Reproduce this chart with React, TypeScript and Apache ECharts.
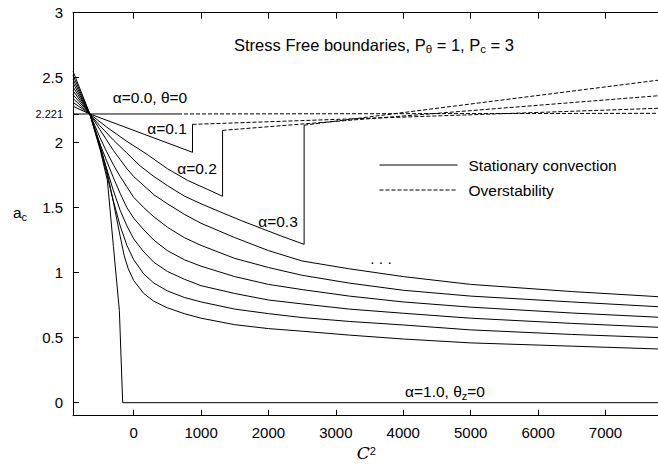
import React, { useEffect, useRef } from "react";
import * as echarts from "echarts";

const FONT = "'Liberation Sans', Arial, Helvetica, sans-serif";

// axis ticks
const xTicks = [0, 1000, 2000, 3000, 4000, 5000, 6000, 7000];
const yTicks = [0, 0.5, 1, 1.5, 2, 2.221, 2.5, 3];

// stationary convection curves (C^2, a_c)
const alpha00Stat = [[-900, 2.221], [658, 2.221]];
const alpha01Stat = [[-900, 2.28], [-650, 2.221], [873, 1.926]];
const alpha02Stat = [[-900, 2.31], [-650, 2.221], [-400, 2.12], [-100, 2.01], [200, 1.91], [500, 1.8], [800, 1.71], [1100, 1.64], [1319, 1.588]];
const alpha03Stat = [[-900, 2.34], [-650, 2.221], [-500, 2.13], [-300, 2.02], [-100, 1.92], [100, 1.82], [300, 1.74], [500, 1.67], [750, 1.59], [1000, 1.53], [1319, 1.46], [1600, 1.4], [1900, 1.34], [2200, 1.28], [2529, 1.218]];
const alpha04Stat = [[-900, 2.37], [-650, 2.221], [-500, 2.1], [-400, 2.02], [-300, 1.94], [-200, 1.87], [-100, 1.8], [0, 1.74], [150, 1.67], [300, 1.6], [500, 1.53], [750, 1.45], [1000, 1.38], [1500, 1.27], [2000, 1.17], [2500, 1.09], [3200, 1.03], [4000, 0.97], [5000, 0.91], [6500, 0.855], [7800, 0.815]];
const alpha05Stat = [[-900, 2.4], [-650, 2.221], [-500, 2.04], [-400, 1.93], [-300, 1.83], [-200, 1.74], [-100, 1.66], [0, 1.58], [150, 1.5], [300, 1.43], [500, 1.35], [750, 1.27], [1000, 1.21], [1500, 1.11], [2000, 1.04], [2500, 0.98], [3200, 0.92], [4000, 0.865], [5000, 0.82], [6500, 0.775], [7800, 0.738]];
const alpha06Stat = [[-900, 2.43], [-650, 2.221], [-500, 1.99], [-400, 1.86], [-300, 1.73], [-200, 1.61], [-100, 1.5], [0, 1.42], [150, 1.33], [300, 1.25], [500, 1.17], [750, 1.1], [1000, 1.05], [1500, 0.97], [2000, 0.91], [2500, 0.87], [3200, 0.82], [4000, 0.775], [5000, 0.735], [6500, 0.69], [7800, 0.657]];
const alpha07Stat = [[-900, 2.46], [-650, 2.221], [-500, 1.96], [-400, 1.8], [-300, 1.63], [-200, 1.48], [-100, 1.36], [0, 1.26], [150, 1.16], [300, 1.08], [500, 1.01], [750, 0.95], [1000, 0.9], [1500, 0.84], [2000, 0.79], [2500, 0.76], [3200, 0.72], [4000, 0.688], [5000, 0.65], [6500, 0.61], [7800, 0.58]];
const alpha08Stat = [[-900, 2.49], [-650, 2.221], [-500, 1.97], [-400, 1.76], [-300, 1.55], [-200, 1.36], [-100, 1.21], [0, 1.1], [150, 0.99], [300, 0.92], [500, 0.86], [750, 0.81], [1000, 0.775], [1500, 0.72], [2000, 0.685], [2500, 0.655], [3200, 0.625], [4000, 0.598], [5000, 0.56], [6500, 0.525], [7800, 0.5]];
const alpha09Stat = [[-900, 2.52], [-650, 2.221], [-500, 1.99], [-400, 1.79], [-300, 1.54], [-200, 1.28], [-140, 1.13], [-80, 1.03], [0, 0.94], [150, 0.84], [300, 0.78], [500, 0.73], [750, 0.685], [1000, 0.65], [1500, 0.6], [2000, 0.57], [2500, 0.55], [3200, 0.52], [4000, 0.49], [5000, 0.46], [6500, 0.435], [7800, 0.413]];
const alpha10Stat = [[-900, 2.55], [-650, 2.221], [-494, 1.94], [-390, 1.71], [-300, 1.2], [-212, 0.71], [-163, 0], [7800, 0]];

// vertical jumps from stationary to overstable onset
const alpha01Jump = [[873, 1.926], [873, 2.141]];
const alpha02Jump = [[1319, 1.588], [1319, 2.095]];
const alpha03Jump = [[2529, 1.218], [2529, 2.135]];

// overstability branches
const alpha00Over = [[658, 2.221], [7800, 2.226]];
const alpha01Over = [[873, 2.141], [7800, 2.265]];
const alpha02Over = [[1319, 2.095], [7800, 2.362]];
const alpha03Over = [[2529, 2.135], [7800, 2.482]];

const STAT = "Stationary convection";
const OVER = "Overstability";

function lineSeries(name: string, data: number[][], dashed: boolean) {
  return {
    type: "line",
    name,
    data,
    showSymbol: false,
    symbol: "none",
    smooth: false,
    clip: true,
    silent: true,
    lineStyle: { color: "#000", width: 1, type: dashed ? [4, 2] : "solid" },
    itemStyle: { color: "#000" },
  };
}

export default function App() {
  const ref = useRef<HTMLDivElement>(null);
  useEffect(() => {
    if (!ref.current) return;
    const chart = echarts.init(ref.current, undefined, { renderer: "svg" });
    const labelStyle = { fontFamily: FONT, fontSize: 15.5, fill: "#000" };
    const option: any = {
      animation: false,
      backgroundColor: "#fff",
      title: {
        text: "Stress Free boundaries, P{s|θ} = 1, P{s|c} = 3",
        left: 369,
        top: 30,
        textAlign: "center",
        textStyle: {
          fontFamily: FONT,
          fontSize: 16.5,
          fontWeight: "normal",
          color: "#000",
          lineHeight: 20,
          rich: { s: { fontFamily: FONT, fontSize: 11.5, lineHeight: 11, verticalAlign: "bottom", color: "#000" } },
        },
      },
      legend: {
        data: [STAT, OVER],
        orient: "vertical",
        left: 379,
        top: 157,
        padding: 0,
        itemWidth: 78,
        itemHeight: 14,
        itemGap: 9,
        itemStyle: { opacity: 0 },
        lineStyle: { width: 1 },
        textStyle: { fontFamily: FONT, fontSize: 15.5, color: "#000", padding: [0, 0, 0, 6] },
      },
      grid: { left: 73, top: 12.7, width: 586.4, height: 403, containLabel: false, outerBoundsMode: "none" },
      xAxis: [
        {
          type: "value",
          min: -900,
          max: 7800,
          position: "bottom",
          name: "{c|C}{p|2}",
          nameLocation: "middle",
          nameGap: 30,
          nameMoveOverlap: false,
          nameTextStyle: {
            rich: {
              c: { fontFamily: "'DejaVu Serif', serif", fontStyle: "italic", fontSize: 17, color: "#000", lineHeight: 16, verticalAlign: "bottom" },
              p: { fontFamily: FONT, fontSize: 11, color: "#000", lineHeight: 16, verticalAlign: "top" },
            },
          },
          axisLine: { show: true, onZero: false, lineStyle: { color: "#000", width: 1 } },
          axisTick: { show: true, inside: true, length: 6, customValues: xTicks, lineStyle: { color: "#000" } },
          axisLabel: {
            show: true,
            customValues: xTicks,
            margin: 9,
            fontFamily: FONT,
            fontSize: 15,
            color: "#000",
            formatter: (v: number) => String(v),
          },
          splitLine: { show: false },
        },
        {
          type: "value",
          min: -900,
          max: 7800,
          position: "top",
          axisLine: { show: true, onZero: false, lineStyle: { color: "#000", width: 1 } },
          axisTick: { show: true, inside: true, length: 6, customValues: xTicks, lineStyle: { color: "#000" } },
          axisLabel: { show: false },
          splitLine: { show: false },
        },
      ],
      yAxis: [
        {
          type: "value",
          min: -0.1,
          max: 3,
          position: "left",
          axisLine: { show: true, onZero: false, lineStyle: { color: "#000", width: 1 } },
          axisTick: { show: true, inside: true, length: 6, customValues: yTicks, lineStyle: { color: "#000" } },
          axisLabel: {
            show: true,
            customValues: yTicks,
            margin: 10,
            fontFamily: FONT,
            fontSize: 15,
            color: "#000",
            formatter: (v: number) => (Math.abs(v - 2.221) < 1e-6 ? "{s|2.221}" : String(v)),
            rich: { s: { fontFamily: FONT, fontSize: 11, color: "#000" } },
          },
          splitLine: { show: false },
        },
      ],
      graphic: [
        {
          type: "text",
          x: 20,
          y: 212,
          style: {
            text: "a{s|c}",
            fontFamily: FONT,
            fontSize: 15.5,
            fill: "#000",
            align: "center",
            verticalAlign: "middle",
            lineHeight: 20,
            rich: { s: { fontFamily: FONT, fontSize: 11, lineHeight: 11, verticalAlign: "bottom", fill: "#000" } },
          },
        },
        { type: "text", x: 150, y: 97, style: { ...labelStyle, text: "α=0.0, θ=0", align: "center", verticalAlign: "middle" } },
        { type: "text", x: 167, y: 128, style: { ...labelStyle, text: "α=0.1", align: "center", verticalAlign: "middle" } },
        { type: "text", x: 197, y: 168, style: { ...labelStyle, text: "α=0.2", align: "center", verticalAlign: "middle" } },
        { type: "text", x: 278, y: 221, style: { ...labelStyle, text: "α=0.3", align: "center", verticalAlign: "middle" } },
        { type: "text", x: 381, y: 258, style: { ...labelStyle, text: ". . .", align: "center", verticalAlign: "middle" } },
        {
          type: "text",
          x: 445,
          y: 391,
          style: {
            ...labelStyle,
            text: "α=1.0, θ{s|z}=0",
            align: "center",
            verticalAlign: "middle",
            lineHeight: 20,
            rich: { s: { fontFamily: FONT, fontSize: 11, lineHeight: 11, verticalAlign: "bottom", fill: "#000" } },
          },
        },
      ],
      series: [
        lineSeries(STAT, alpha00Stat, false),
        lineSeries(STAT, alpha01Stat, false),
        lineSeries(STAT, alpha02Stat, false),
        lineSeries(STAT, alpha03Stat, false),
        lineSeries(STAT, alpha04Stat, false),
        lineSeries(STAT, alpha05Stat, false),
        lineSeries(STAT, alpha06Stat, false),
        lineSeries(STAT, alpha07Stat, false),
        lineSeries(STAT, alpha08Stat, false),
        lineSeries(STAT, alpha09Stat, false),
        lineSeries(STAT, alpha10Stat, false),
        lineSeries(STAT, alpha01Jump, false),
        lineSeries(STAT, alpha02Jump, false),
        lineSeries(STAT, alpha03Jump, false),
        lineSeries(OVER, alpha00Over, true),
        lineSeries(OVER, alpha01Over, true),
        lineSeries(OVER, alpha02Over, true),
        lineSeries(OVER, alpha03Over, true),
      ],
    };
    chart.setOption(option);
    return () => chart.dispose();
  }, []);
  return <div ref={ref} style={{ position: "absolute", left: 0, top: 0, width: 658, height: 464 }} />;
}
